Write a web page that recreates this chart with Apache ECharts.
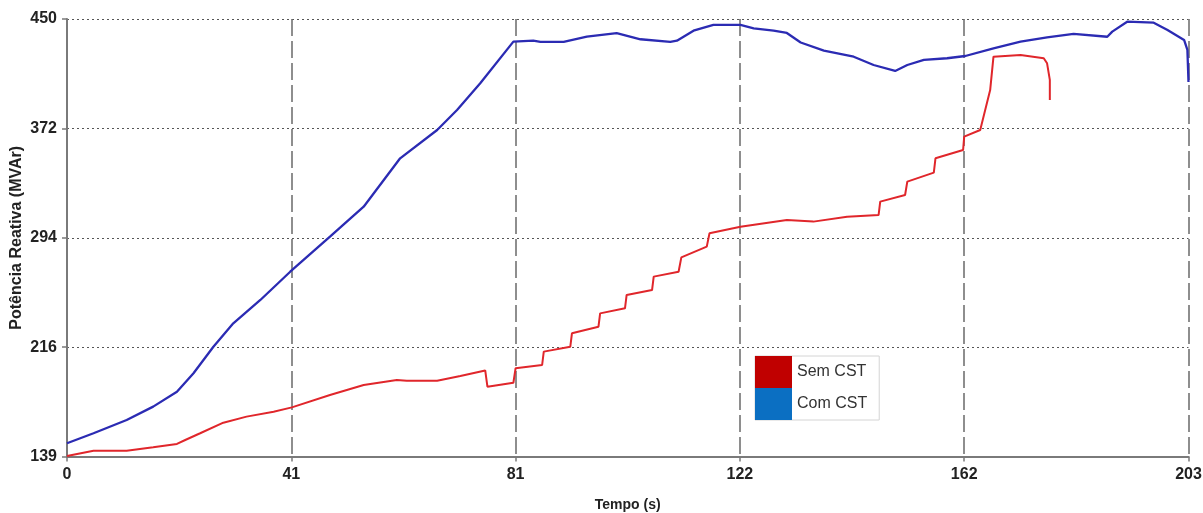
<!DOCTYPE html>
<html>
<head>
<meta charset="utf-8">
<script src="https://cdn.jsdelivr.net/npm/echarts@6/dist/echarts.min.js"></script>
<style>
  html, body { margin: 0; padding: 0; background: #ffffff; }
  #chart { width: 1203px; height: 513px; }
</style>
</head>
<body>
<div id="chart"></div>
<script>
// Reactive power over time, with and without CST
const xTicks = [0, 40.6, 81.2, 121.8, 162.4, 203];
const xTickLabels = ['0', '41', '81', '122', '162', '203'];
const yTicks = [139, 216.75, 294.5, 372.25, 450];
const yTickLabels = ['139', '216', '294', '372', '450'];

// "Com CST" trace
const comCstTempo = [0, 4.8, 10.8, 15.6, 19.9, 22.9, 26.5, 30.1, 35.0, 40.4, 47.6, 53.7, 60.3, 67.0, 70.6, 74.8, 80.8,
  84.4, 85.7, 89.9, 94.1, 99.5, 103.8, 109.2, 110.4, 113.4, 117.0, 121.9, 124.3, 127.9, 130.3, 132.8, 137.0,
  142.4, 146.0, 149.9, 152.1, 155.1, 159.3, 162.6, 167.7, 172.6, 177.4, 182.2, 188.3, 189.2, 191.9, 196.7,
  199.2, 202.2, 202.8, 203];
const comCstValor = [148.5, 155.6, 165.0, 174.5, 185.1, 198.2, 217.1, 233.7, 250.3, 270.4, 295.3, 316.6, 351.0, 371.1, 385.3, 404.3, 433.9,
  434.6, 433.7, 433.7, 437.4, 439.9, 435.6, 433.7, 434.6, 441.7, 445.8, 445.8, 443.4, 441.7, 440.1, 433.3, 427.5,
  423.2, 417.3, 413.1, 417.3, 420.9, 422.1, 423.7, 429.2, 433.9, 437.0, 439.4, 437.4, 441.0, 448.1, 447.4,
  442.2, 435.1, 428.0, 405.2];

// "Sem CST" trace
const semCstTempo = [0, 4.8, 10.8, 15.6, 19.9, 21.4, 24.1, 28.3, 32.5, 37.4, 40.7, 47.6, 53.7, 59.7, 61.5, 67.0, 71.2,
  75.7, 76.1, 80.8, 81.2, 86.0, 86.3, 91.1, 91.4, 96.2, 96.5, 101.0, 101.3, 105.9, 106.2, 110.7, 111.2,
  115.8, 116.3, 121.9, 130.3, 135.1, 141.2, 146.9, 147.2, 151.7, 152.1, 156.9, 157.2, 162.2, 162.4, 165.3,
  167.1, 167.7, 172.6, 176.8, 177.4, 177.9, 177.9];
const semCstValor = [139.4, 143.2, 143.2, 145.6, 148.0, 150.8, 155.6, 163.1, 167.4, 170.9, 174.0, 182.8, 189.9, 193.4, 192.9, 192.9, 196.3,
  200.2, 188.7, 191.5, 201.8, 204.1, 213.6, 217.1, 226.6, 231.3, 240.8, 244.4, 253.9, 257.4, 266.9, 270.4, 280.6,
  288.2, 297.7, 302.4, 307.2, 306.0, 309.5, 310.7, 320.2, 324.9, 334.4, 340.8, 351.0, 356.9, 366.4, 371.1,
  399.5, 423.2, 424.4, 422.1, 418.5, 406.7, 392.5];

const pairs = (xs, ys) => xs.map((x, i) => [x, ys[i]]);

const tickFont = { fontFamily: '"Liberation Sans", Arial, sans-serif', fontWeight: 'bold', fontSize: 16, color: '#222' };

const chart = echarts.init(document.getElementById('chart'), null, { renderer: 'canvas' });
chart.setOption({
  animation: false,
  backgroundColor: '#ffffff',
  grid: { left: 67, right: 14.5, top: 19, bottom: 56.4, containLabel: false, outerBoundsMode: 'none' },
  legend: {
    orient: 'vertical',
    left: 755,
    top: 356,
    itemWidth: 37,
    itemHeight: 32,
    itemGap: 0,
    padding: [0, 12, 0, 0],
    borderColor: '#d4d4d4',
    borderWidth: 1,
    backgroundColor: '#ffffff',
    selectedMode: false,
    textStyle: { fontFamily: '"Liberation Sans", Arial, sans-serif', fontSize: 16, color: '#333' },
    data: [
      { name: 'Sem CST', icon: 'rect', itemStyle: { color: '#c00000', borderWidth: 0 } },
      { name: 'Com CST', icon: 'rect', itemStyle: { color: '#0b6fc2', borderWidth: 0 } }
    ]
  },
  xAxis: {
    type: 'value',
    min: 0,
    max: 203,
    name: 'Tempo (s)',
    nameLocation: 'middle',
    nameGap: 42,
    nameMoveOverlap: false,
    nameTextStyle: { fontFamily: '"Liberation Sans", Arial, sans-serif', fontWeight: 'bold', fontSize: 14, color: '#222' },
    axisLine: { show: true, lineStyle: { color: '#7a7a7a', width: 2 } },
    axisTick: { show: true, customValues: xTicks, length: 5, lineStyle: { color: '#7a7a7a', width: 1.5 } },
    axisLabel: {
      customValues: xTicks,
      margin: 10,
      ...tickFont,
      formatter: (v) => xTickLabels[xTicks.indexOf(v)]
    },
    splitLine: { show: true, lineStyle: { color: '#6a6a6a', width: 1.5, type: [17, 5] } }
  },
  yAxis: {
    type: 'value',
    min: 139,
    max: 450,
    name: 'Potência Reativa (MVAr)',
    nameLocation: 'middle',
    nameRotate: 90,
    nameGap: 42,
    nameMoveOverlap: false,
    nameTextStyle: { fontFamily: '"Liberation Sans", Arial, sans-serif', fontWeight: 'bold', fontSize: 16, color: '#222' },
    axisLine: { show: true, lineStyle: { color: '#7a7a7a', width: 2 } },
    axisTick: { show: true, customValues: yTicks, length: 5, lineStyle: { color: '#7a7a7a', width: 1.5 } },
    axisLabel: {
      customValues: yTicks,
      margin: 10,
      ...tickFont,
      formatter: (v) => yTickLabels[yTicks.indexOf(v)]
    },
    splitLine: { show: true, lineStyle: { color: '#555555', width: 1.2, type: [2, 3] } }
  },
  series: [
    {
      name: 'Sem CST',
      type: 'line',
      data: pairs(semCstTempo, semCstValor),
      showSymbol: false,
      symbol: 'none',
      itemStyle: { color: '#c00000' },
      lineStyle: { color: '#e0262b', width: 2 },
      z: 3
    },
    {
      name: 'Com CST',
      type: 'line',
      data: pairs(comCstTempo, comCstValor),
      showSymbol: false,
      symbol: 'none',
      itemStyle: { color: '#0b6fc2' },
      lineStyle: { color: '#2b2bb3', width: 2.3 },
      z: 3
    }
  ]
});
</script>
</body>
</html>
